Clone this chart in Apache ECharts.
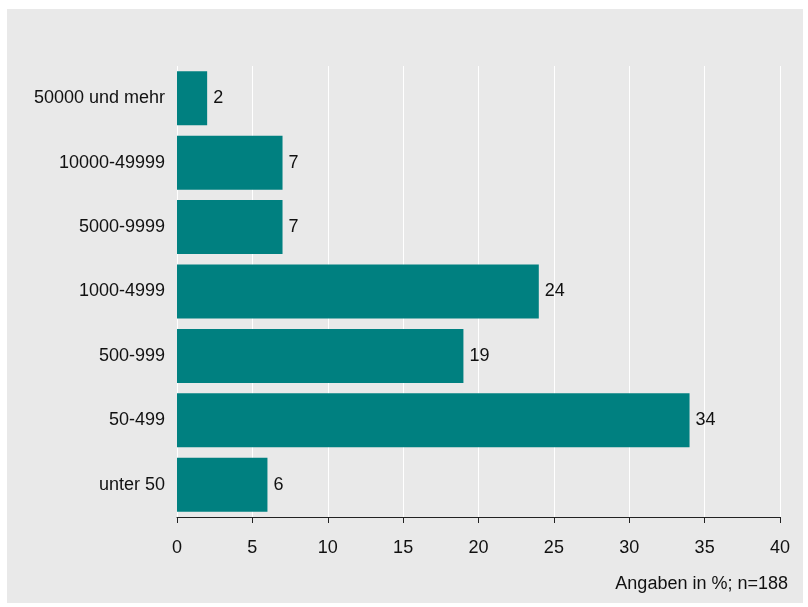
<!DOCTYPE html>
<html>
<head>
<meta charset="utf-8">
<script src="https://cdn.jsdelivr.net/npm/echarts@6/dist/echarts.min.js"></script>
<style>
html,body{margin:0;padding:0;background:#fff;}
#chart{width:808px;height:607px;}
</style>
</head>
<body>
<div id="chart"></div>
<script>
const categories = ["unter 50", "50-499", "500-999", "1000-4999", "5000-9999", "10000-49999", "50000 und mehr"];
const values = [6, 34, 19, 24, 7, 7, 2];
const xTicks = [0, 5, 10, 15, 20, 25, 30, 35, 40];
const note = "Angaben in %; n=188";

const chart = echarts.init(document.getElementById('chart'), null, {renderer: 'canvas'});
const font = "'Liberation Sans', Arial, Helvetica, sans-serif";
chart.setOption({
  backgroundColor: '#ffffff',
  animation: false,
  graphic: [
    {type: 'rect', z: -10, silent: true, shape: {x: 7, y: 9, width: 796, height: 594}, style: {fill: '#e9e9e9'}},
    {type: 'text', right: 20, top: 575, style: {text: note, font: "18px " + font, fill: '#111', textAlign: 'right'}}
  ],
  grid: {left: 177, right: 28, top: 66, bottom: 90, containLabel: false},
  xAxis: {
    type: 'value', min: xTicks[0], max: xTicks[xTicks.length - 1], interval: 5,
    axisLine: {show: true, lineStyle: {color: '#222', width: 1}},
    axisTick: {show: true, length: 6, lineStyle: {color: '#222'}},
    axisLabel: {fontFamily: font, fontSize: 18, color: '#111', margin: 22},
    splitLine: {show: true, lineStyle: {color: '#ffffff', width: 1}}
  },
  yAxis: {
    type: 'category', data: categories,
    axisLine: {show: false}, axisTick: {show: false},
    axisLabel: {fontFamily: font, fontSize: 18, color: '#111', margin: 12}
  },
  series: [{
    type: 'bar', data: values, barCategoryGap: '16.2%',
    itemStyle: {color: '#008080'},
    label: {show: true, position: 'right', distance: 6, fontFamily: font, fontSize: 18, color: '#111'}
  }]
});
</script>
</body>
</html>
